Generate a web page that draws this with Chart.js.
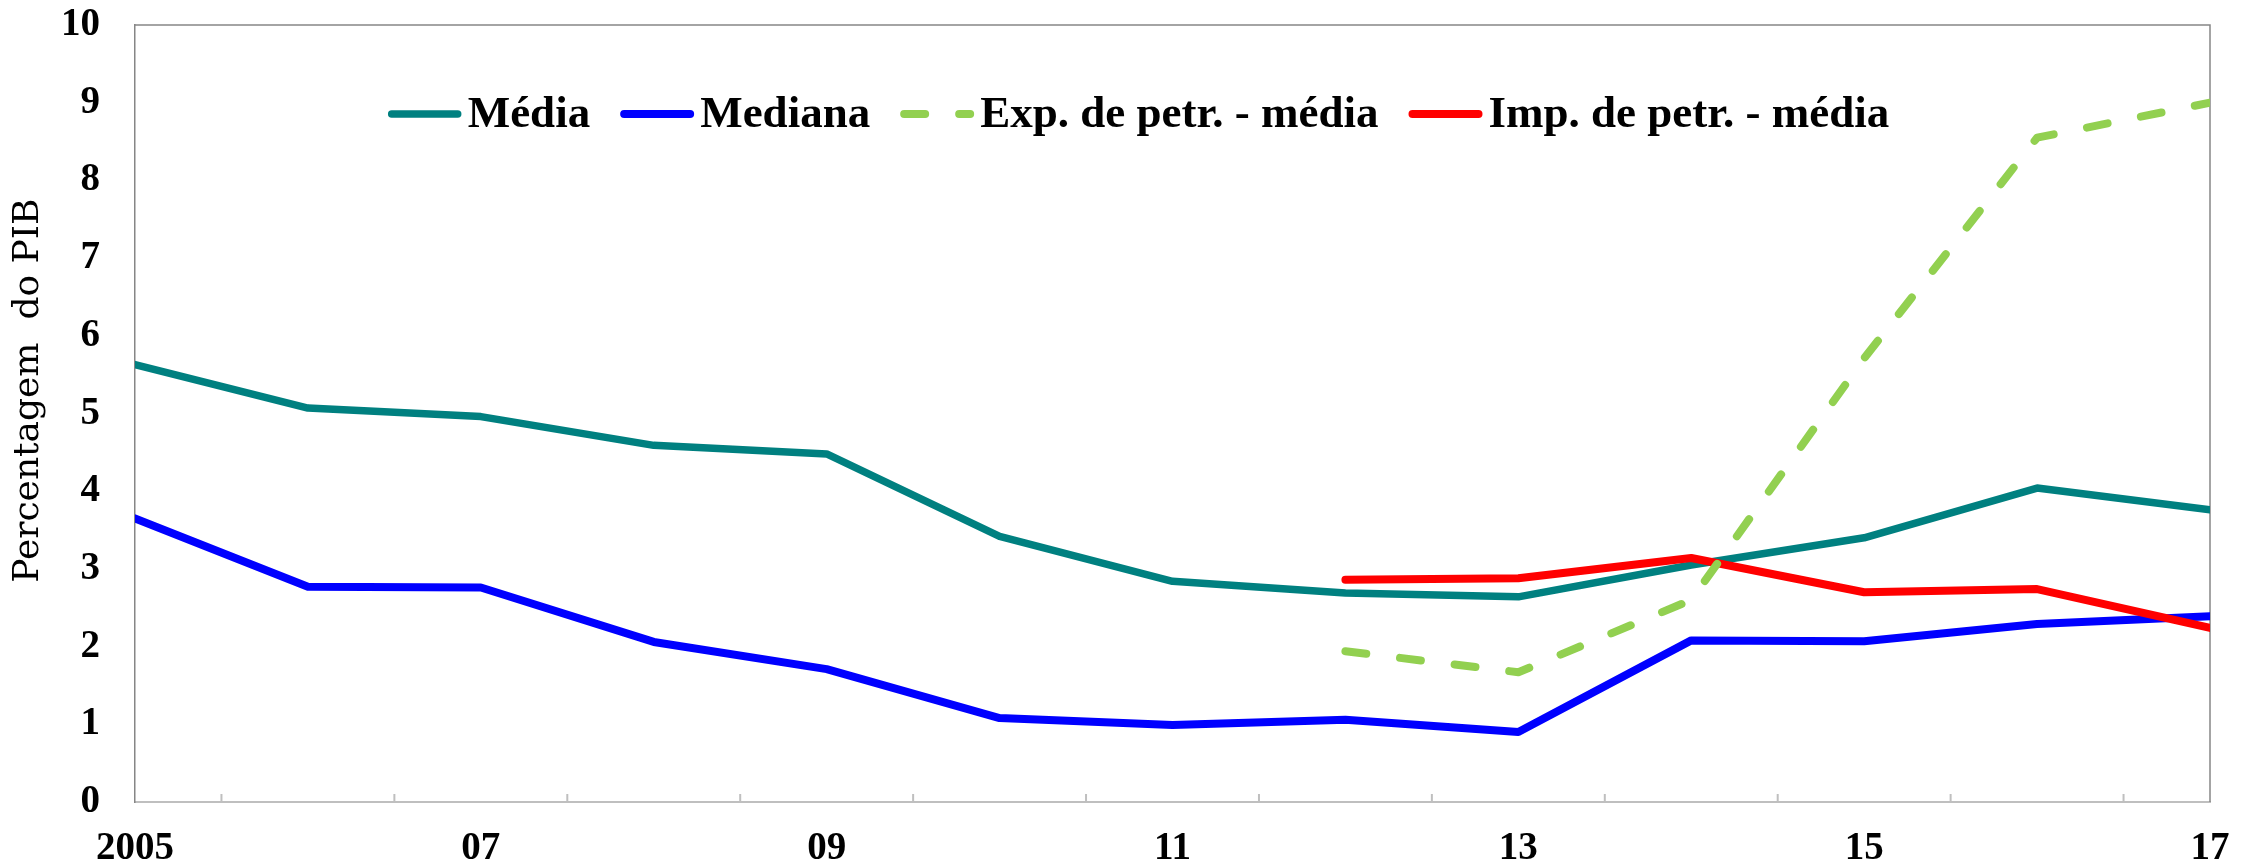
<!DOCTYPE html>
<html>
<head>
<meta charset="utf-8">
<script src="https://cdn.jsdelivr.net/npm/chart.js@4.4.1/dist/chart.umd.min.js"></script>
<style>
  html, body { margin: 0; padding: 0; background: #fff; }
</style>
</head>
<body>
<canvas id="debtChart" width="2247" height="867"></canvas>
<script>
  // Data (percent of GDP)
  const years = [2005, 2006, 2007, 2008, 2009, 2010, 2011, 2012, 2013, 2014, 2015, 2016, 2017];
  const yearLabels = ["2005", "", "07", "", "09", "", "11", "", "13", "", "15", "", "17"];
  const media = [5.63, 5.07, 4.96, 4.59, 4.48, 3.42, 2.84, 2.69, 2.64, 3.05, 3.40, 4.04, 3.76];
  const mediana = [3.65, 2.77, 2.76, 2.06, 1.71, 1.08, 0.99, 1.06, 0.90, 2.08, 2.07, 2.29, 2.39];
  const expPetr = [null, null, null, null, null, null, null, 1.94, 1.67, 2.60, 5.71, 8.55, 9.00];
  const impPetr = [null, null, null, null, null, null, null, 2.86, 2.88, 3.14, 2.70, 2.74, 2.24];
  const yTickLabels = ["0", "1", "2", "3", "4", "5", "6", "7", "8", "9", "10"];

  const tickFont = { family: '"Liberation Serif", serif', weight: "bold", size: 39 };

  // legend drawn inside the plot area, like the original
  const legendInside = {
    id: "legendInside",
    afterDatasetsDraw(chart) {
      const { ctx, chartArea } = chart;
      const lineLen = 66, textGap = 10, itemGap = 34;
      const sets = chart.data.datasets;
      ctx.save();
      ctx.font = 'bold 45px "Liberation Serif", serif';
      const widths = sets.map(ds => ctx.measureText(ds.label).width);
      let total = itemGap * (sets.length - 1);
      widths.forEach(w => { total += lineLen + textGap + w; });
      let x = (chartArea.left + chartArea.right) / 2 - 32 - total / 2;
      const yLine = chartArea.top + 89;
      const yText = chartArea.top + 102;
      sets.forEach((ds, i) => {
        ctx.beginPath();
        ctx.strokeStyle = ds.borderColor;
        ctx.lineWidth = ds.borderWidth;
        ctx.lineCap = "round";
        ctx.setLineDash(ds.borderDash || []);
        ctx.moveTo(x, yLine);
        ctx.lineTo(x + lineLen, yLine);
        ctx.stroke();
        ctx.setLineDash([]);
        ctx.fillStyle = "#000";
        ctx.textBaseline = "alphabetic";
        ctx.fillText(ds.label, x + lineLen + textGap, yText);
        x += lineLen + textGap + widths[i] + itemGap;
      });
      ctx.restore();
    }
  };

  // frame on top/right and small inward tick marks between the years
  const frameTicks = {
    id: "frameTicks",
    beforeDatasetsDraw(chart) {
      const { ctx, chartArea, scales } = chart;
      ctx.save();
      ctx.strokeStyle = "#BFBFBF";
      ctx.lineWidth = 2;
      scales.x.ticks.forEach(t => {
        if (Math.abs((t.value % 1) - 0.5) > 1e-6) return;
        const px = scales.x.getPixelForValue(t.value);
        ctx.beginPath();
        ctx.moveTo(px, chartArea.bottom);
        ctx.lineTo(px, chartArea.bottom - 8);
        ctx.stroke();
      });
      ctx.strokeStyle = "#868686";
      ctx.lineWidth = 1.5;
      ctx.beginPath();
      ctx.moveTo(chartArea.left, chartArea.top);
      ctx.lineTo(chartArea.right, chartArea.top);
      ctx.lineTo(chartArea.right, chartArea.bottom);
      ctx.stroke();
      ctx.restore();
    }
  };

  const lineStyle = {
    pointRadius: 0,
    tension: 0,
    fill: false,
    borderCapStyle: "round",
    borderJoinStyle: "round",
  };

  const config = {
    type: "line",
    data: {
      labels: years,
      datasets: [
        { label: "Média", data: media, borderColor: "#008080", borderWidth: 7.5, order: 3, ...lineStyle },
        { label: "Mediana", data: mediana, borderColor: "#0000FF", borderWidth: 8, order: 2, ...lineStyle },
        { label: "Exp. de petr. - média", data: expPetr, borderColor: "#92D050", borderWidth: 8, borderDash: [21, 34], order: 0, ...lineStyle },
        { label: "Imp. de petr. - média", data: impPetr, borderColor: "#FF0000", borderWidth: 8, order: 1, ...lineStyle },
      ],
    },
    options: {
      responsive: false,
      animation: false,
      devicePixelRatio: 1,
      layout: { autoPadding: false, padding: { top: 25, right: 37, left: 0, bottom: 0 } },
      plugins: {
        legend: { display: false },
        tooltip: { enabled: false },
      },
      scales: {
        x: {
          type: "linear",
          min: 2005,
          max: 2017,
          grid: { display: false, drawTicks: false },
          border: { display: true, color: "#BFBFBF", width: 2 },
          ticks: {
            stepSize: 0.5,
            autoSkip: false,
            maxRotation: 0,
            minRotation: 0,
            padding: 24,
            color: "#000",
            font: tickFont,
            callback: function (value) {
              const i = years.indexOf(value);
              return i >= 0 ? yearLabels[i] : "";
            },
          },
          afterFit: function (scale) {
            scale.height = 65;
            scale.paddingLeft = 0;
            scale.paddingRight = 0;
          },
        },
        y: {
          min: 0,
          max: 10,
          grid: { display: false, drawTicks: false },
          border: { display: true, color: "#868686", width: 1.5 },
          ticks: {
            stepSize: 1,
            padding: 35,
            color: "#000",
            font: tickFont,
            callback: function (value, index) { return yTickLabels[index]; },
          },
          title: {
            display: true,
            text: "    Percentagem  do PIB",
            color: "#000",
            font: { family: '"DejaVu Serif", serif', size: 36, weight: "normal" },
            padding: { top: 7, bottom: 0 },
          },
          afterFit: function (scale) {
            scale.width = 135;
            scale.paddingTop = 0;
            scale.paddingBottom = 0;
          },
        },
      },
    },
    plugins: [frameTicks, legendInside],
  };

  const debtChart = new Chart(document.getElementById("debtChart"), config);
</script>
</body>
</html>
